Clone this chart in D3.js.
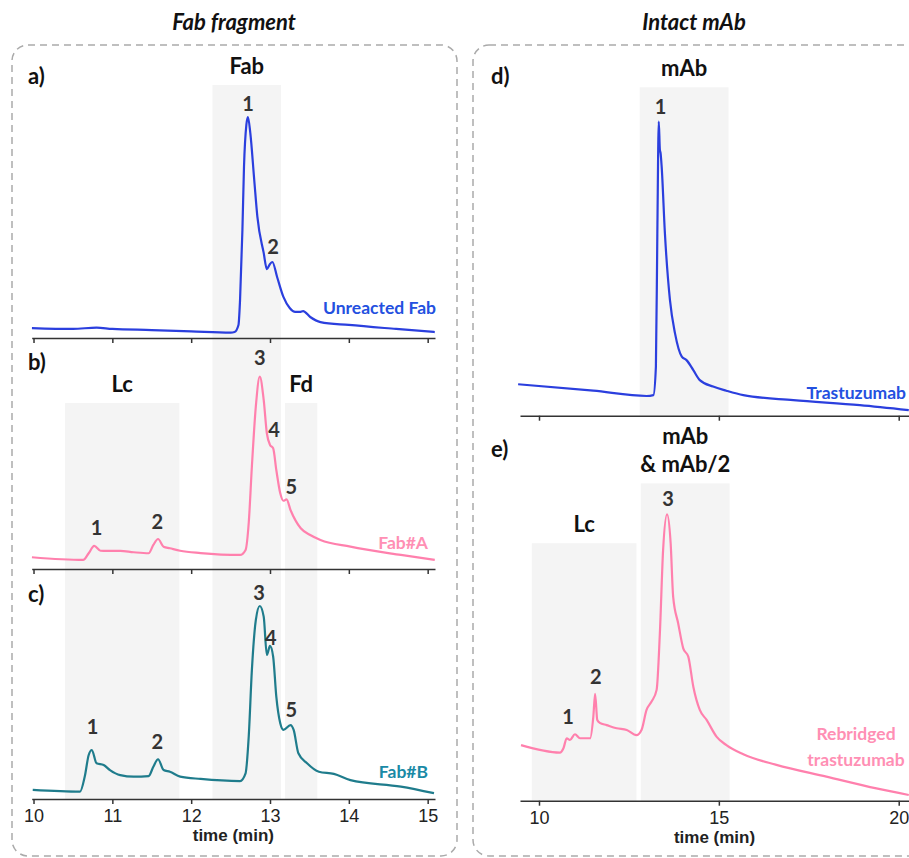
<!DOCTYPE html>
<html>
<head>
<meta charset="utf-8">
<script src="https://cdn.jsdelivr.net/npm/d3@7"></script>
<style>
	body { margin: 0; background: #fff; }
	text { font-family: Lato, "Open Sans", sans-serif; }
</style>
</head>
<body>
<svg id="chart" width="909" height="858"></svg>
<script>
/* retention time (min) and absorbance, normalised so the main peak = 100 */
const timeA = [9.98, 10.5, 10.8, 11.0, 11.5, 12.0, 12.5, 12.55, 12.6, 12.62, 12.65, 12.67, 12.7, 12.72, 12.75, 12.8, 12.84, 12.92, 12.96, 13.0, 13.03, 13.09, 13.17, 13.25, 13.32, 13.38, 13.42, 13.51, 13.64, 14.0, 14.6, 15.09];
const valA  = [4.5, 4.1, 4.7, 4.1, 3.6, 3.0, 2.4, 2.7, 5.9, 17.2, 48.9, 77.4, 96.4, 100, 92.8, 71.5, 54.8, 38.5, 31.2, 33.5, 34.4, 27.6, 18.6, 13.6, 11.8, 11.8, 12.2, 9.5, 7.2, 5.9, 4.1, 2.7];

const timeB = [9.98, 10.63, 10.7, 10.77, 10.85, 10.93, 11.1, 11.27, 11.46, 11.52, 11.58, 11.65, 11.73, 11.86, 12.12, 12.62, 12.69, 12.73, 12.77, 12.82, 12.87, 12.92, 12.96, 13.0, 13.04, 13.08, 13.13, 13.17, 13.21, 13.26, 13.39, 13.51, 13.64, 14.02, 14.66, 15.09];
const valB  = [6.1, 4.7, 8.2, 12.0, 9.5, 9.4, 9.4, 8.7, 8.2, 12.5, 15.6, 11.6, 10.8, 9.5, 8.3, 7.3, 9.9, 23.9, 53.2, 84.4, 100, 87.9, 70.6, 64.5, 62.8, 51.5, 39.4, 35.5, 36.2, 30.7, 21.2, 17.7, 15.1, 11.6, 7.3, 4.7];

const timeC = [9.99, 10.59, 10.65, 10.7, 10.74, 10.8, 10.89, 10.97, 11.1, 11.27, 11.46, 11.52, 11.58, 11.65, 11.73, 11.86, 12.12, 12.62, 12.69, 12.73, 12.77, 12.82, 12.87, 12.92, 12.96, 13.0, 13.04, 13.08, 13.13, 13.17, 13.26, 13.3, 13.36, 13.47, 13.62, 13.81, 14.02, 14.66, 15.08];
const valC  = [4.7, 3.8, 11.6, 22.8, 25.4, 18.5, 17.6, 15.0, 12.4, 11.6, 11.9, 16.7, 20.6, 15.0, 14.1, 11.6, 10.4, 9.3, 13.3, 32.3, 66.8, 92.7, 100, 94.5, 74.6, 79.3, 73.7, 53.0, 39.2, 35.8, 38.3, 35.8, 23.7, 18.5, 14.1, 13.0, 9.8, 6.4, 3.0];

const timeD = [9.42, 11.51, 12.99, 13.18, 13.25, 13.29, 13.33, 13.36, 13.38, 13.41, 13.5, 13.64, 13.78, 13.97, 14.1, 14.29, 14.47, 14.84, 15.21, 15.68, 17.07, 18.92, 20.28];
const valD  = [10.7, 8.5, 6.7, 7.0, 16.7, 62.1, 100, 90.5, 89.3, 84.7, 62.1, 39.4, 28.1, 20.1, 18.9, 15.5, 12.1, 9.9, 8.5, 7.0, 5.3, 3.6, 1.9];

const timeE = [9.5, 10.58, 10.68, 10.77, 10.86, 11.0, 11.14, 11.42, 11.51, 11.56, 11.62, 11.69, 11.88, 12.16, 12.44, 12.71, 12.85, 12.99, 13.13, 13.27, 13.36, 13.45, 13.56, 13.66, 13.73, 13.87, 14.01, 14.15, 14.29, 14.47, 14.66, 14.94, 15.21, 15.68, 16.6, 17.99, 19.38, 20.28];
const valE  = [19.4, 16.8, 18.3, 21.8, 21.2, 23.2, 21.8, 21.8, 29.3, 37.3, 28.2, 27.2, 26.4, 25.3, 24.7, 22.9, 24.7, 31.7, 34.6, 38.7, 58.4, 87.5, 100, 89.9, 71.2, 61.9, 53.2, 50.3, 39.8, 31.7, 28.2, 22.3, 19.4, 16.2, 12.5, 8.4, 4.3, 2.0];

/* x ticks */
const fabTicks = [10, 11, 12, 13, 14, 15];
const mabTicks = [10, 15, 20];

/* shaded elution windows: time range, panel where it starts, top in intensity units */
const fabBands = [
	{ label: ["Fab"], t0: 12.27, t1: 13.14, from: "a", top: 114.5 },
	{ label: ["Lc"],  t0: 10.40, t1: 11.85, from: "b", top: 86.3 },
	{ label: ["Fd"],  t0: 13.19, t1: 13.60, from: "b", top: 86.3 }
];
const mabBands = [
	{ label: ["mAb"], t0: 12.80, t1: 15.27, from: "d", to: "d", top: 111.7 },
	{ label: ["Lc"],  t0: 9.80,  t1: 12.71, from: "e", to: "e", top: 89.9 },
	{ label: ["mAb", "& mAb/2"], t0: 12.83, t1: 15.30, from: "e", to: "e", top: 110.8 }
];

/* peak numbers: [time, intensity, label] */
const peaksA = [[12.72, 105.9, "1"], [13.04, 41.2, "2"]];
const peaksB = [[10.80, 21.3, "1"], [11.57, 24.6, "2"], [12.87, 109.7, "3"], [13.05, 72.3, "4"], [13.27, 42.8, "5"]];
const peaksC = [[10.75, 37.5, "1"], [11.57, 29.7, "2"], [12.86, 106.6, "3"], [13.01, 83.3, "4"], [13.27, 46.1, "5"]];
const peaksD = [[13.38, 105, "1"]];
const peaksE = [[10.81, 29.3, "1"], [11.58, 43.1, "2"], [13.59, 105.3, "3"]];

const svg = d3.select("#chart");

const xFab = d3.scaleLinear().domain([9.977, 15.093]).range([31.7, 435]);
const xMab = d3.scaleLinear().domain([9.472, 20.5]).range([520, 916.7]);

/* each panel: its x scale and a y scale (0 on the axis, 100 at the main peak) */
const panels = {
	a: { x: xFab, y: d3.scaleLinear().domain([0, 100]).range([338, 117]) },
	b: { x: xFab, y: d3.scaleLinear().domain([0, 100]).range([569, 376.7]) },
	c: { x: xFab, y: d3.scaleLinear().domain([0, 100]).range([799, 606]) },
	d: { x: xMab, y: d3.scaleLinear().domain([0, 100]).range([415.7, 121.7]) },
	e: { x: xMab, y: d3.scaleLinear().domain([0, 100]).range([800.7, 514.3]) }
};

/* dashed frames */
svg.append("rect")
	.attr("x", 12).attr("y", 45).attr("width", 445).attr("height", 811)
	.attr("rx", 16)
	.attr("fill", "none").attr("stroke", "#aaa")
	.attr("stroke-width", 1.5).attr("stroke-dasharray", "7 5");
svg.append("rect")
	.attr("x", 473).attr("y", 45).attr("width", 460).attr("height", 811)
	.attr("rx", 16)
	.attr("fill", "none").attr("stroke", "#aaa")
	.attr("stroke-width", 1.5).attr("stroke-dasharray", "7 5");

/* titles */
svg.append("text").attr("x", 234).attr("y", 30)
	.attr("text-anchor", "middle").attr("font-size", "22px")
	.attr("font-weight", "bold").attr("font-style", "italic")
	.attr("fill", "#111").text("Fab fragment");
svg.append("text").attr("x", 694).attr("y", 30)
	.attr("text-anchor", "middle").attr("font-size", "22px")
	.attr("font-weight", "bold").attr("font-style", "italic")
	.attr("fill", "#111").text("Intact mAb");

/* shaded windows, drawn under everything */
function drawBands(bands, bottomPanel) {
	bands.forEach(b => {
		const p = panels[b.from];
		const yTop = p.y(b.top);
		const yBot = panels[b.to || bottomPanel].y(0);
		svg.append("rect")
			.attr("x", p.x(b.t0))
			.attr("y", yTop)
			.attr("width", p.x(b.t1) - p.x(b.t0))
			.attr("height", yBot - yTop)
			.attr("fill", "#f4f4f4");
		const xm = (p.x(b.t0) + p.x(b.t1)) / 2;
		b.label.forEach((line, i) => {
			svg.append("text")
				.attr("x", xm)
				.attr("y", yTop - 11 - (b.label.length - 1 - i) * 28)
				.attr("text-anchor", "middle")
				.attr("font-size", "22px").attr("font-weight", "bold")
				.attr("fill", "#111")
				.text(line);
		});
	});
}
drawBands(fabBands, "c");
drawBands(mabBands, "e");

/* x axis under each panel */
function drawAxis(key, ticks, withLabels) {
	const p = panels[key];
	const g = svg.append("g")
		.attr("transform", `translate(0,${p.y(0)})`)
		.call(d3.axisBottom(p.x).tickValues(ticks).tickSize(5).tickSizeOuter(0)
			.tickFormat(withLabels ? d3.format("d") : ""));
	g.select(".domain").attr("stroke", "#333").attr("stroke-width", 1.5);
	g.selectAll(".tick line").attr("stroke", "#333").attr("stroke-width", 1.5);
	g.selectAll(".tick text")
		.style("font-family", "'Liberation Sans', Arial, sans-serif")
		.style("font-size", "18px").attr("fill", "#222").attr("dy", "0.85em");
	if (withLabels) {
		svg.append("text")
			.attr("x", (p.x.range()[0] + Math.min(p.x.range()[1], 909)) / 2)
			.attr("y", p.y(0) + 42)
			.attr("text-anchor", "middle")
			.style("font-family", "'Liberation Sans', Arial, sans-serif")
			.style("font-size", "17px").attr("font-weight", "bold").attr("fill", "#222")
			.text("time (min)");
	}
}
drawAxis("a", fabTicks, false);
drawAxis("b", fabTicks, false);
drawAxis("c", fabTicks, true);
drawAxis("d", mabTicks, false);
drawAxis("e", mabTicks, true);

/* chromatogram trace */
function drawTrace(key, times, values, color) {
	const p = panels[key];
	const line = d3.line()
		.x(d => p.x(d[0]))
		.y(d => p.y(d[1]))
		.curve(d3.curveMonotoneX);
	svg.append("path")
		.datum(d3.zip(times, values))
		.attr("d", line)
		.attr("fill", "none")
		.attr("stroke", color)
		.attr("stroke-width", 2.2)
		.attr("stroke-linejoin", "round");
}
drawTrace("a", timeA, valA, "#2b3fde");
drawTrace("b", timeB, valB, "#ff80ad");
drawTrace("c", timeC, valC, "#1f7c8c");
drawTrace("d", timeD, valD, "#2b3fde");
drawTrace("e", timeE, valE, "#ff80ad");

/* numbered peaks */
function drawPeaks(key, peaks) {
	const p = panels[key];
	svg.append("g").selectAll("text")
		.data(peaks)
		.join("text")
		.attr("x", d => p.x(d[0]))
		.attr("y", d => p.y(d[1]))
		.attr("dy", "0.36em")
		.attr("text-anchor", "middle")
		.attr("font-size", "20px").attr("font-weight", "bold")
		.attr("fill", "#333")
		.text(d => d[2]);
}
drawPeaks("a", peaksA);
drawPeaks("b", peaksB);
drawPeaks("c", peaksC);
drawPeaks("d", peaksD);
drawPeaks("e", peaksE);

/* panel letters */
[["a)", 28, 84], ["b)", 28, 370], ["c)", 28, 602], ["d)", 491, 84], ["e)", 491, 457]].forEach(([t, x, y]) => {
	svg.append("text").attr("x", x).attr("y", y)
		.attr("font-size", "22px").attr("font-weight", "bold").attr("fill", "#111")
		.text(t);
});

/* sample names */
function sampleLabel(lines, x, y, anchor, color) {
	lines.forEach((t, i) => {
		svg.append("text")
			.attr("x", x).attr("y", y + i * 26)
			.attr("dy", "0.35em")
			.attr("text-anchor", anchor)
			.attr("font-size", "17.5px").attr("font-weight", "bold")
			.attr("fill", color)
			.text(t);
	});
}
sampleLabel(["Unreacted Fab"], 436, 308, "end", "#2450e0");
sampleLabel(["Fab#A"], 428, 543, "end", "#ff8fb4");
sampleLabel(["Fab#B"], 428, 772, "end", "#1a8aa6");
sampleLabel(["Trastuzumab"], 906, 393, "end", "#2450e0");
sampleLabel(["Rebridged", "trastuzumab"], 856, 734, "middle", "#ff8fb4");
</script>
</body>
</html>
